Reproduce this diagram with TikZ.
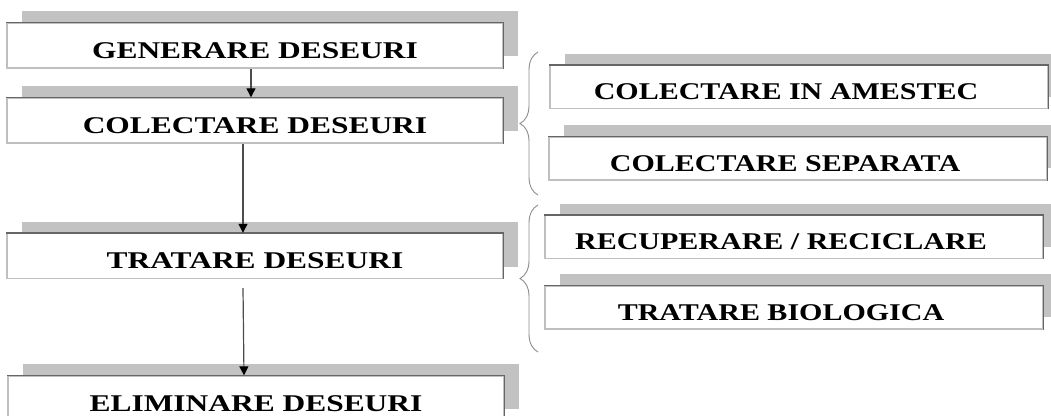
\documentclass[tikz,border=0pt]{standalone}
\usepackage{fontspec}
\setmainfont{Liberation Serif}
\newfontfamily\stagefont[FakeStretch=1.31]{Liberation Serif}
\newfontfamily\optionfont[FakeStretch=1.25]{Liberation Serif}
\usetikzlibrary{shadows,decorations.pathreplacing,arrows.meta}

\tikzset{
  stagebox/.style={draw=black!25, line width=1.4pt, fill=white,
    minimum width=496pt, minimum height=45pt, inner sep=0pt,
    text height=25pt, text depth=0pt,
    drop shadow={shadow xshift=15pt, shadow yshift=12pt, fill=black!24, opacity=1},
    font=\stagefont\bfseries\fontsize{24}{24}\selectfont},
  optionbox/.style={stagebox, minimum width=498pt, minimum height=43pt,
    font=\optionfont\bfseries\fontsize{24}{24}\selectfont,
    execute at begin node={\hspace*{-26pt}}},
  darkedge/.style={draw=black!60, line width=1.4pt},
  flow/.style={draw=black!70, line width=1.2pt,
    -{Triangle[length=9pt,width=9pt,color=black]}},
  bracket/.style={draw=black!45, line width=0.9pt, decorate,
    decoration={brace, amplitude=18pt}}
}

\begin{document}
\begin{tikzpicture}[x=1pt,y=-1pt]
\useasboundingbox (0,0) rectangle (1051,415);

% Main stages.
\node[stagebox] (gen)  at (255,45.5)  {GENERARE DESEURI};
\node[stagebox] (col)  at (255,120.5) {COLECTARE DESEURI};
\node[stagebox] (trat) at (255,256)   {TRATARE DESEURI};
\node[stagebox] (elim) at (256,398.5) {ELIMINARE DESEURI};

% Options.
\node[optionbox] (mix) at (799,87)    {COLECTARE IN AMESTEC};
\node[optionbox] (sep) at (798,158.5) {COLECTARE SEPARATA};
\node[optionbox] (rec) at (794,237)   {RECUPERARE / RECICLARE};
\node[optionbox] (bio) at (794,307.5) {TRATARE BIOLOGICA};

% Darker top and right edges.
\foreach \n in {gen,col,trat,elim,mix,sep,rec,bio}
  \draw[darkedge] (\n.north west) -- (\n.north east) -- (\n.south east);

% Flow.
\draw[flow] ([xshift=-4pt]gen.south) -- ([xshift=-4pt]col.north);
\draw[flow] ([xshift=-12pt]col.south) -- ([xshift=-12pt]trat.north);
\draw[flow] ([xshift=-12pt,yshift=-9pt]trat.south) -- ([xshift=-12pt]elim.north);

% Braces.
\coordinate (collow)  at (538,195);
\coordinate (colhigh) at (538,52);
\coordinate (tratlow)  at (538,352);
\coordinate (trathigh) at (538,205);
\draw[bracket] (collow) -- (colhigh);
\draw[bracket] (tratlow) -- (trathigh);
\end{tikzpicture}
\end{document}
